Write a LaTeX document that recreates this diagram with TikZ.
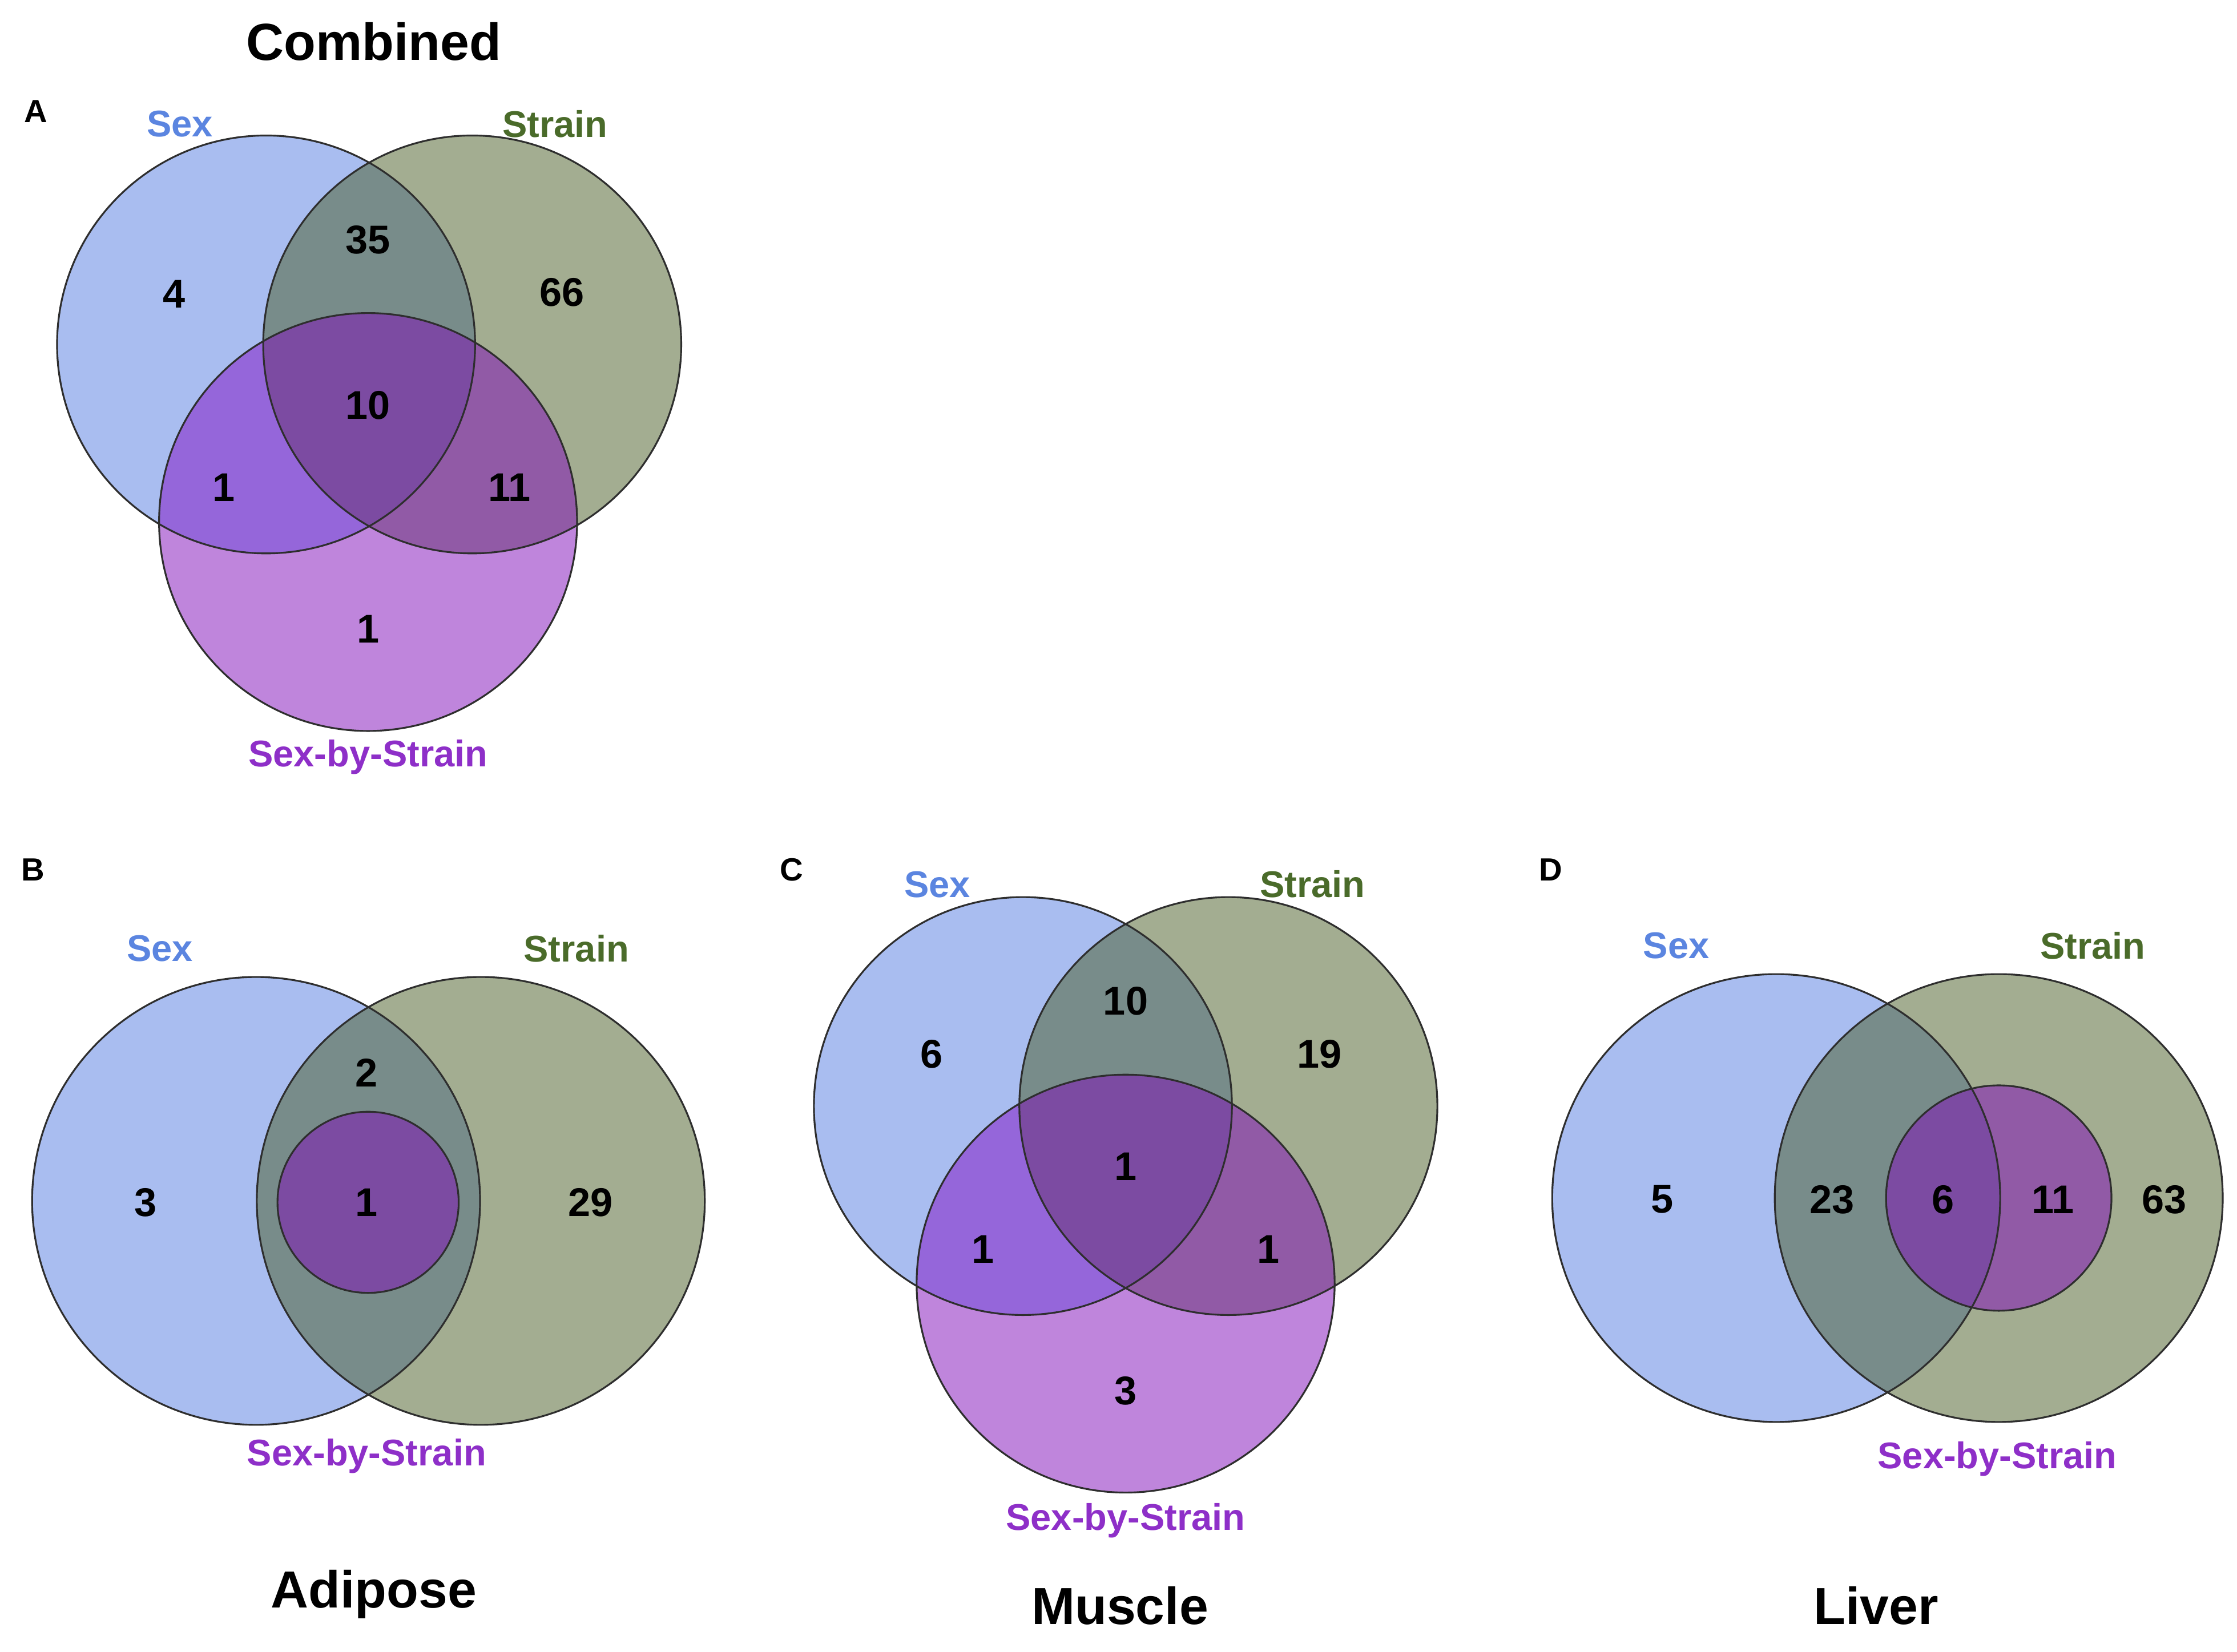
\documentclass[tikz,border=0pt]{standalone}
\usepackage{fontspec}
\setmainfont{Liberation Sans}
\definecolor{sexc}{HTML}{A9BDF0}
\definecolor{strc}{HTML}{A3AD91}
\definecolor{sbsc}{HTML}{BF85DC}
\definecolor{ssc}{HTML}{788C8A}
\definecolor{sxbc}{HTML}{9566DA}
\definecolor{stbc}{HTML}{915AA6}
\definecolor{allc}{HTML}{7C4BA2}
\definecolor{sexlab}{HTML}{5B85E0}
\definecolor{strlab}{HTML}{4A6B2A}
\definecolor{sbslab}{HTML}{8E2FC8}
\definecolor{edgec}{HTML}{2E2E2E}
\newcommand\triVenn[7]{%
  \fill[sexc] (#1,#2) circle[radius=#7];
  \fill[strc] (#3,#4) circle[radius=#7];
  \fill[sbsc] (#5,#6) circle[radius=#7];
  \begin{scope}\clip (#3,#4) circle[radius=#7]; \fill[stbc] (#5,#6) circle[radius=#7];\end{scope}
  \begin{scope}\clip (#1,#2) circle[radius=#7];
    \fill[ssc] (#3,#4) circle[radius=#7];
    \fill[sxbc] (#5,#6) circle[radius=#7];
    \clip (#3,#4) circle[radius=#7];
    \fill[allc] (#5,#6) circle[radius=#7];
  \end{scope}
  \draw[vline] (#1,#2) circle[radius=#7] (#3,#4) circle[radius=#7] (#5,#6) circle[radius=#7];}
\newcommand\duoVenn[8]{%
  \fill[sexc] (#1,#2) circle[radius=#5];
  \fill[strc] (#3,#4) circle[radius=#5];
  \begin{scope}\clip (#3,#4) circle[radius=#5]; \fill[stbc] (#6,#7) circle[radius=#8];\end{scope}
  \begin{scope}\clip (#1,#2) circle[radius=#5];
    \fill[ssc] (#3,#4) circle[radius=#5];
    \clip (#3,#4) circle[radius=#5];
    \fill[allc] (#6,#7) circle[radius=#8];
  \end{scope}
  \draw[vline] (#1,#2) circle[radius=#5] (#3,#4) circle[radius=#5] (#6,#7) circle[radius=#8];}
\begin{document}
\begin{tikzpicture}[x=0.025cm,y=-0.025cm,
  vline/.style={draw=edgec,line width=0.9pt},
  num/.style={font=\fontsize{20}{23}\selectfont\bfseries,inner sep=0pt},
  title/.style={font=\fontsize{26}{30}\selectfont\bfseries,inner sep=0pt},
  panel/.style={font=\fontsize{16}{18}\selectfont\bfseries,inner sep=0pt},
  sexl/.style={font=\fontsize{18.5}{22}\selectfont\bfseries,text=sexlab,inner sep=0pt},
  strl/.style={font=\fontsize{18.5}{22}\selectfont\bfseries,text=strlab,inner sep=0pt},
  sbsl/.style={font=\fontsize{18.5}{22}\selectfont\bfseries,text=sbslab,inner sep=0pt}]
\useasboundingbox (0,0) rectangle (1568,1158);
% ---------- Panel A ----------
\triVenn{186.5}{241.5}{331}{241.5}{258}{366}{146.5}
\node[title] (tA) at (262,29) {Combined};
\node[panel] (pA) at (25,78) {A};
\node[sexl] (sexA) at (126,87) {Sex};
\node[strl] (strA) at (389,87) {Strain};
\node[sbsl] (sbsA) at (258,531) {Sex-by-Strain};
\node[num] (a1) at (122,206) {4};
\node[num] (a2) at (258,168) {35};
\node[num] (a3) at (394,205) {66};
\node[num] (a4) at (258,284) {10};
\node[num] (a5) at (157,342) {1};
\node[num] (a6) at (357,342) {11};
\node[num] (a7) at (258,441) {1};
% ---------- Panel B ----------
\duoVenn{179.5}{842}{337}{842}{157}{258}{843}{63.5}
\node[panel] (pB) at (23,610) {B};
\node[sexl] (sexB) at (112,665) {Sex};
\node[strl] (strB) at (404,665) {Strain};
\node[sbsl] (sbsB) at (257,1021) {Sex-by-Strain};
\node[num] (b1) at (102,843) {3};
\node[num] (b2) at (257,752) {2};
\node[num] (b3) at (257,843) {1};
\node[num] (b4) at (414,843) {29};
\node[title] (tB) at (262,1118) {Adipose};
% ---------- Panel C ----------
\triVenn{717}{775.5}{861}{775.5}{789}{900}{146.5}
\node[panel] (pC) at (555,610) {C};
\node[sexl] (sexC) at (657,620) {Sex};
\node[strl] (strC) at (920,620) {Strain};
\node[sbsl] (sbsC) at (789,1066) {Sex-by-Strain};
\node[num] (c1) at (653,739) {6};
\node[num] (c2) at (789,702) {10};
\node[num] (c3) at (925,739) {19};
\node[num] (c4) at (789,818) {1};
\node[num] (c5) at (689,876) {1};
\node[num] (c6) at (889,876) {1};
\node[num] (c7) at (789,975) {3};
\node[title] (tC) at (785,1126) {Muscle};
% ---------- Panel D ----------
\duoVenn{1245}{840}{1401}{840}{157}{1401}{840}{79}
\node[panel] (pD) at (1087,610) {D};
\node[sexl] (sexD) at (1175,663) {Sex};
\node[strl] (strD) at (1467,663) {Strain};
\node[sbsl] (sbsD) at (1400,1023) {Sex-by-Strain};
\node[num] (d1) at (1165,841) {5};
\node[num] (d2) at (1284,841) {23};
\node[num] (d3) at (1362,841) {6};
\node[num] (d4) at (1439,841) {11};
\node[num] (d5) at (1517,841) {63};
\node[title] (tD) at (1315,1126) {Liver};
\end{tikzpicture}
\end{document}
